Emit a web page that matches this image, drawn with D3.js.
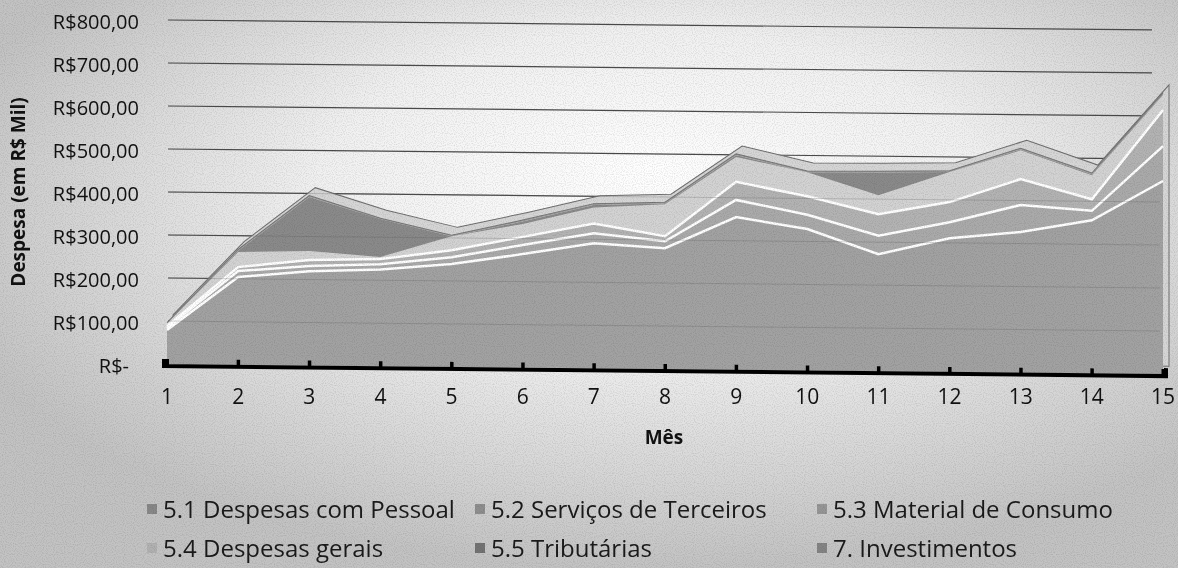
<!DOCTYPE html>
<html>
<head>
<meta charset="utf-8">
<script src="https://cdn.jsdelivr.net/npm/d3@7"></script>
<style>
  html, body { margin: 0; padding: 0; background: #d0d0d0; }
  svg { display: block; font-family: "Open Sans", "DejaVu Sans", sans-serif; }
</style>
</head>
<body>
<svg id="chart" width="1178" height="568"></svg>
<script>
// ---------- data (R$ mil) ----------
const months = ["1","2","3","4","5","6","7","8","9","10","11","12","13","14","15"];
const pessoal       = [79, 204, 219, 225, 239, 264, 291, 281, 355, 329, 272, 311, 327, 356, 449];
const servicos      = [5, 14, 12, 12, 16, 21, 23, 16, 40, 33, 43, 37, 63, 22, 81];
const material      = [4, 9, 14, 12, 16, 19, 23, 12, 42, 43, 50, 47, 60, 27, 84];
const gerais        = [7, 35, 21, 5, 33, 30, 37, 74, 58, 56, 44, 70, 67, 56, 35];
const tributarias   = [0, 3, 126, 88, 0, 6, 6, 2, 4, 0, 53, 0, 2, 2, 2];
const investimentos = [1, 3, 3, 2, 2, 3, 3, 3, 3, 3, 3, 3, 3, 3, 3];
const seriesNames = ["5.1 Despesas com Pessoal", "5.2 Serviços de Terceiros", "5.3 Material de Consumo",
                     "5.4 Despesas gerais", "5.5 Tributárias", "7. Investimentos"];
const yTickValues = [0, 100, 200, 300, 400, 500, 600, 700, 800];
const yTickLabels = ["R$-", "R$100,00", "R$200,00", "R$300,00", "R$400,00", "R$500,00", "R$600,00", "R$700,00", "R$800,00"];
const yTitle = "Despesa (em R$ Mil)";
const xTitle = "Mês";

// ---------- styling ----------
const fills = ["#a2a2a2", "#aaaaaa", "#b3b3b3", "#d3d3d3", "#8a8a8a", "#9e9e9e"];
const keys = ["p", "s", "m", "g", "t", "i"];
const table = months.map((mo, i) => ({
  month: mo, p: pessoal[i], s: servicos[i], m: material[i], g: gerais[i], t: tributarias[i], i: investimentos[i]
}));

const svg = d3.select("#chart");
const W = 1178, H = 568;

// background (scanned paper look)
const defs = svg.append("defs");
const rg = defs.append("radialGradient").attr("id", "bg")
  .attr("cx", "0.55").attr("cy", "0.38").attr("r", "0.62")
  .attr("fx", "0.55").attr("fy", "0.3");
rg.append("stop").attr("offset", "0").attr("stop-color", "#ffffff");
rg.append("stop").attr("offset", "0.45").attr("stop-color", "#f1f1f1");
rg.append("stop").attr("offset", "1").attr("stop-color", "#c3c3c3");
const flt = defs.append("filter").attr("id", "grain").attr("x", 0).attr("y", 0).attr("width", 1).attr("height", 1);
flt.append("feTurbulence").attr("type", "fractalNoise").attr("baseFrequency", "0.9").attr("numOctaves", 1).attr("seed", 3).attr("result", "n");
flt.append("feColorMatrix").attr("in", "n").attr("type", "matrix")
  .attr("values", "0 0 0 0 0  0 0 0 0 0  0 0 0 0 0  0 0 0 -1.6 0.9").attr("result", "a");
flt.append("feComposite").attr("in", "a").attr("in2", "SourceGraphic").attr("operator", "in");

svg.append("rect").attr("width", W).attr("height", H).attr("fill", "url(#bg)");

const x = d3.scalePoint().domain(months).range([167, 1163]);
const y = d3.scaleLinear().domain([0, 800]).range([364, 20]);

// perspective tilt of the 3D plot (front floor slopes down to the right)
const plot = svg.append("g")
  .attr("transform", `translate(167,364) skewY(0.58) translate(-167,-364)`);

// gridlines on back wall
plot.append("g").selectAll("line").data(yTickValues.filter(v => v > 0)).join("line")
  .attr("x1", 168).attr("x2", 1152)
  .attr("y1", d => y(d)).attr("y2", d => y(d))
  .attr("stroke", "#4a4a4a").attr("stroke-width", 1.2);

const stackData = d3.stack().keys(keys)(table);
const area = d3.area().x(d => x(d.data.month)).y0(d => y(d[0])).y1(d => y(d[1]));
const edge = d3.line().x(d => x(d.data.month)).y(d => y(d[1]));

// 3D top / side face (depth)
const topLayer = stackData[stackData.length - 1];
plot.append("path").datum(topLayer)
  .attr("transform", "translate(6,-8)")
  .attr("d", d3.area().x(d => x(d.data.month)).y0(y(0)).y1(d => y(d[1])))
  .attr("fill", "#d6d6d6").attr("stroke", "#6e6e6e").attr("stroke-width", 1);

// stacked areas
plot.append("g").selectAll("path").data(stackData).join("path")
  .attr("d", area)
  .attr("fill", (d, i) => fills[i]);

// white edges between lower layers
plot.append("g").selectAll("path").data(stackData.slice(0, 3)).join("path")
  .attr("d", edge).attr("fill", "none")
  .attr("stroke", "#ffffff").attr("stroke-width", 2.5);
// darker top edge
plot.append("path").datum(topLayer).attr("d", edge).attr("fill", "none")
  .attr("stroke", "#777").attr("stroke-width", 1);

// faint gridlines visible through the areas (scan)
plot.append("g").selectAll("line").data(yTickValues.filter(v => v > 0 && v < 500)).join("line")
  .attr("x1", 168).attr("x2", 1160)
  .attr("y1", d => y(d)).attr("y2", d => y(d))
  .attr("stroke", "#555").attr("stroke-width", 1).attr("opacity", 0.25);

// floor edge with ticks
const y0 = y(0) + 2;
const xFirst = x(months[0]), xLast = x(months[months.length - 1]);
plot.append("path")
  .attr("d", `M${xFirst - 3},${y0 - 7}L${xFirst - 3},${y0}L${xLast + 3},${y0}L${xLast + 3},${y0 - 8}`)
  .attr("fill", "none").attr("stroke", "#000").attr("stroke-width", 4);
plot.append("g").selectAll("rect").data(months).join("rect")
  .attr("x", d => x(d) - 1.5).attr("y", y0 - 7).attr("width", 3.5).attr("height", 7).attr("fill", "#000");

// y tick labels
svg.append("g").selectAll("text").data(yTickValues).join("text")
  .attr("x", d => d === 0 ? 129 : 139)
  .attr("y", d => y(d) + 2)
  .attr("dy", "0.36em")
  .attr("text-anchor", "end")
  .attr("font-size", 20).attr("fill", "#111")
  .text((d, i) => yTickLabels[i]);

// x tick labels
svg.append("g").selectAll("text").data(months).join("text")
  .attr("x", d => x(d)).attr("y", 396).attr("dy", "0.36em")
  .attr("text-anchor", "middle").attr("font-size", 21).attr("fill", "#111")
  .text(d => d);

// axis titles
svg.append("text").attr("x", 664).attr("y", 437).attr("dy", "0.36em")
  .attr("text-anchor", "middle").attr("font-size", 19).attr("font-weight", "bold").attr("fill", "#111")
  .text(xTitle);
svg.append("text").attr("transform", "translate(18,192) rotate(-90)")
  .attr("text-anchor", "middle").attr("dy", "0.36em")
  .attr("font-size", 19).attr("font-weight", "bold").attr("fill", "#111")
  .text(yTitle);

// legend
const legPos = [[152, 509], [480, 509], [822, 509], [152, 548], [480, 548], [822, 548]];
const leg = svg.append("g").selectAll("g").data(seriesNames).join("g")
  .attr("transform", (d, i) => `translate(${legPos[i][0]},${legPos[i][1]})`);
leg.append("rect").attr("x", -5).attr("y", -5).attr("width", 10).attr("height", 10)
  .attr("fill", (d, i) => d3.color(fills[i]).darker(0.5));
leg.append("text").attr("x", 11).attr("dy", "0.36em")
  .attr("font-size", 24).attr("fill", "#1a1a1a")
  .text(d => d);

// subtle scan grain
svg.append("rect").attr("width", W).attr("height", H).attr("fill", "#000")
  .attr("opacity", 0.18).attr("filter", "url(#grain)").style("mix-blend-mode", "multiply");
</script>
</body>
</html>
